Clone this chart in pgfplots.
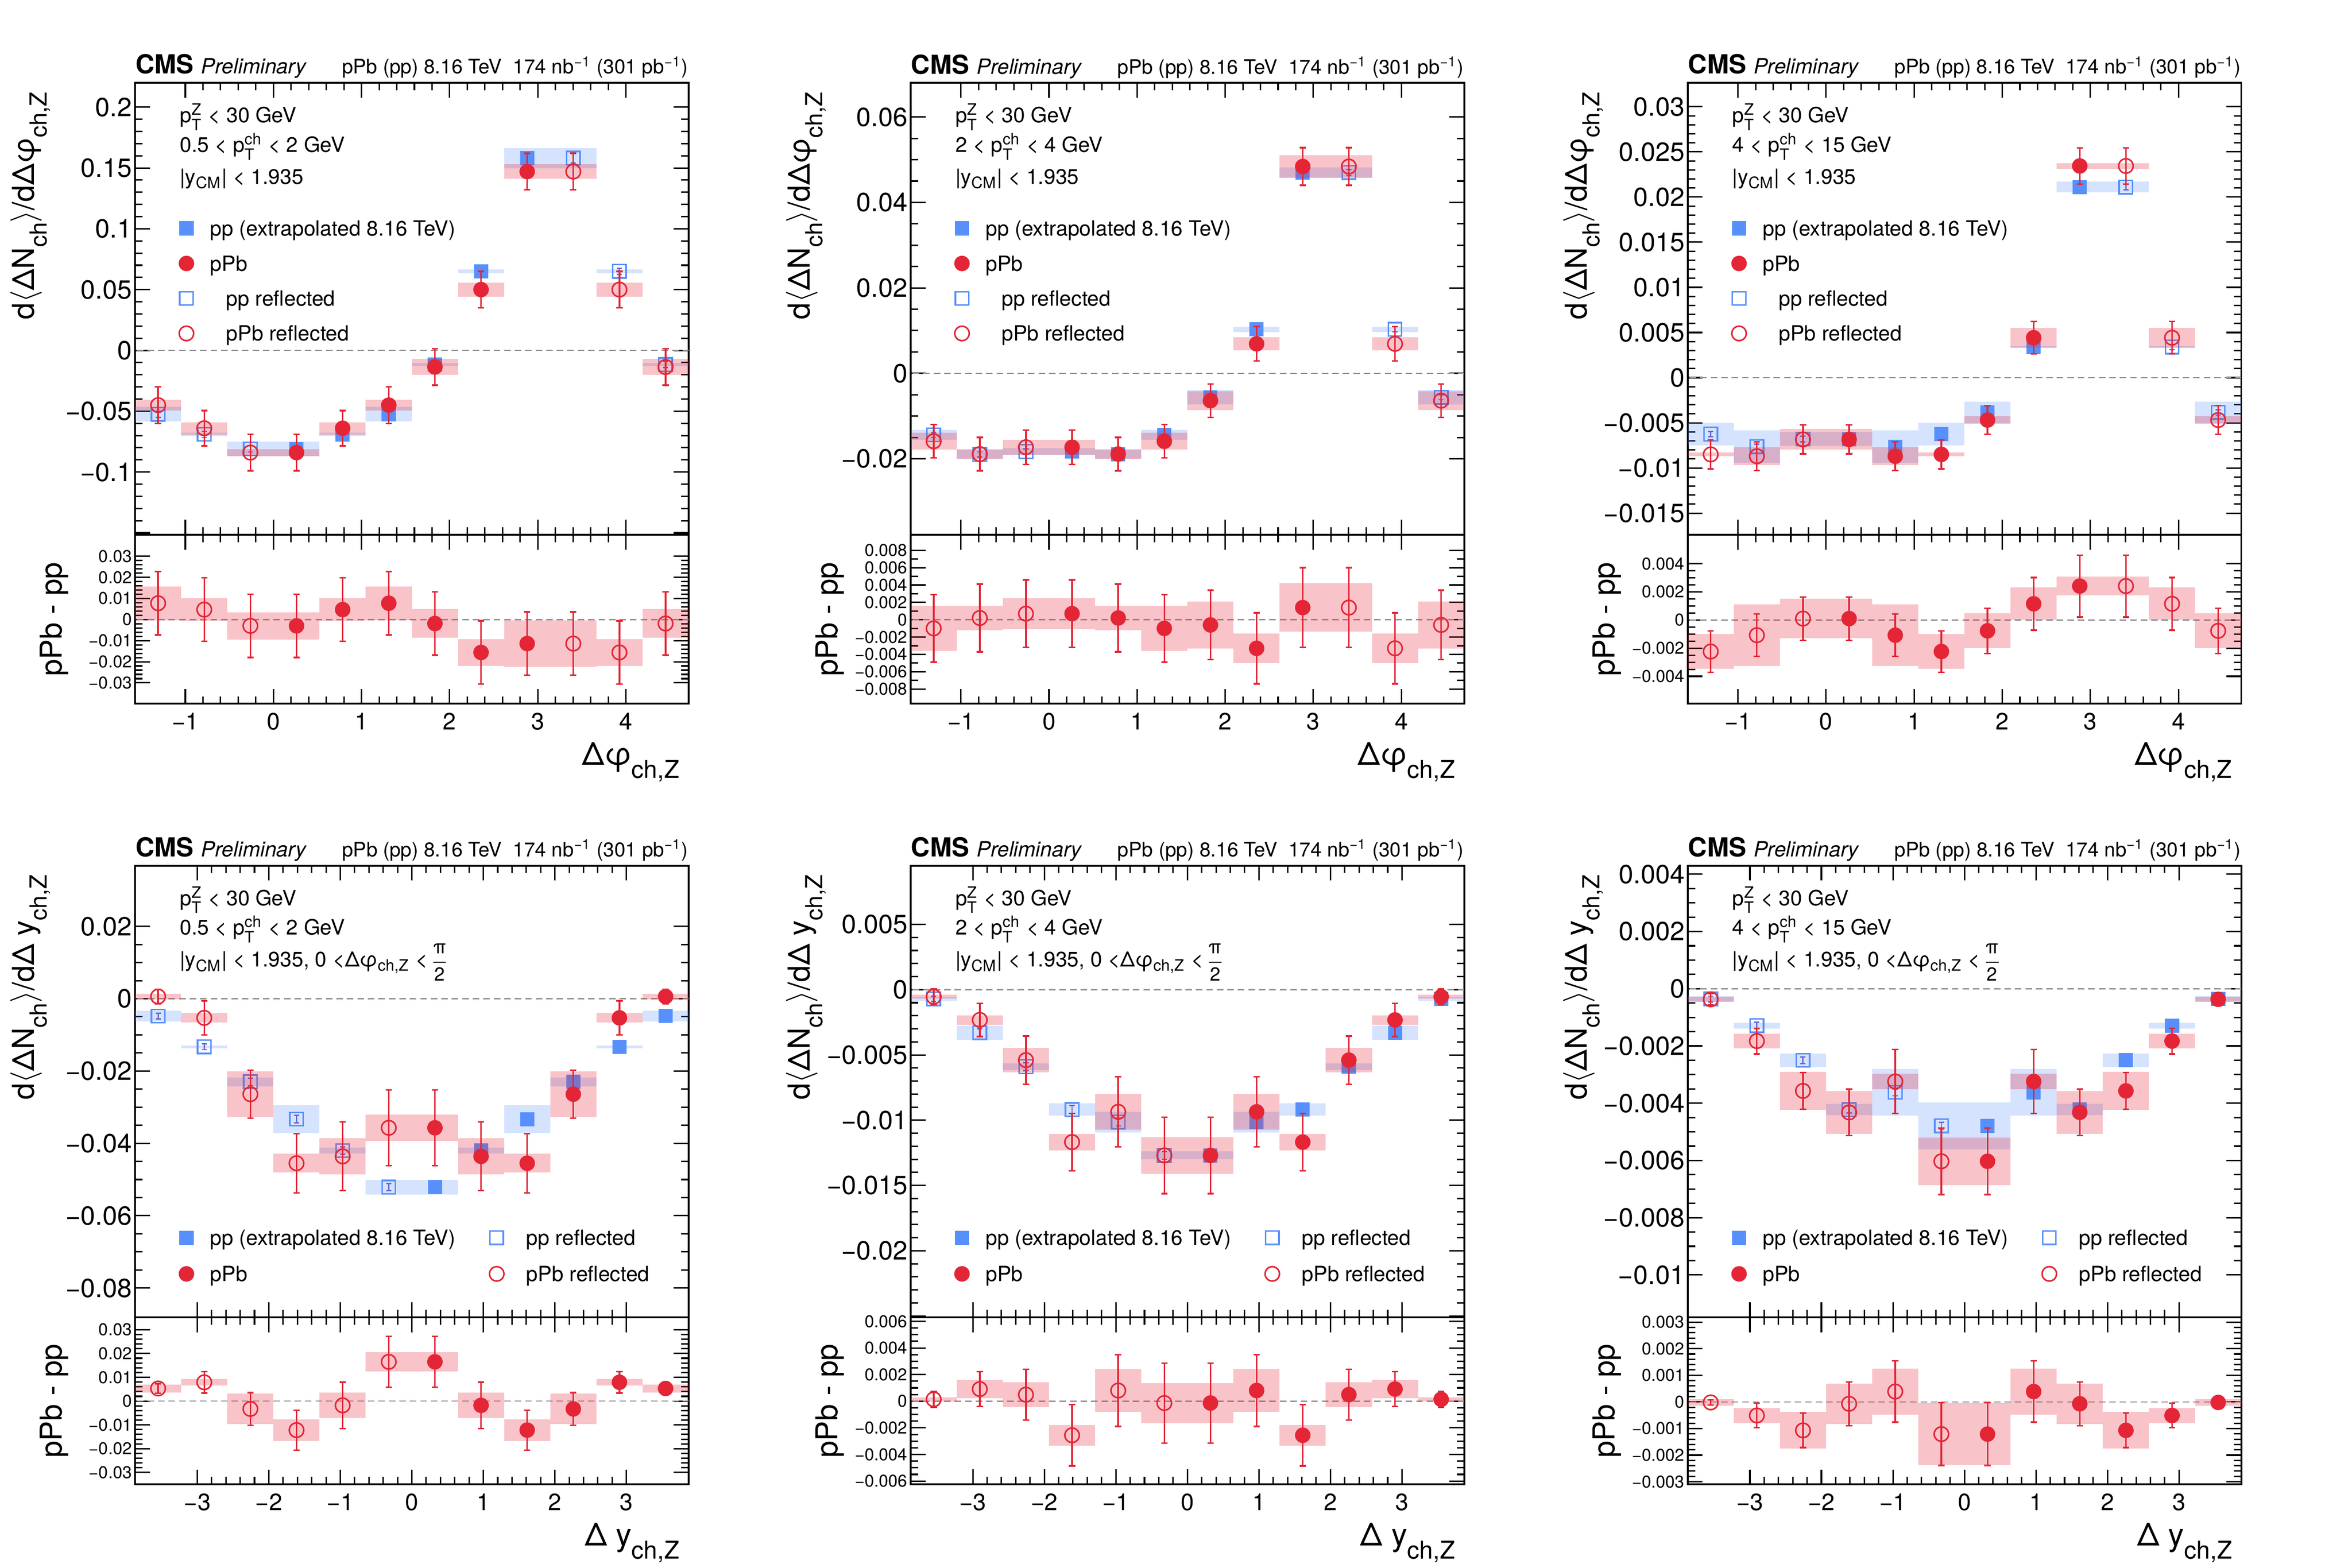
\documentclass[border=0pt]{standalone}
\usepackage{fontspec}
\setmainfont{TeX Gyre Heros}
\usepackage{amsmath}
\usepackage{graphicx}
\usepackage{pgfplots}
\usepackage{pgfplotstable}
\pgfplotsset{compat=1.18}
\definecolor{ppblue}{RGB}{87,144,252}
\definecolor{pbred}{RGB}{228,37,54}
\definecolor{ppstat}{RGB}{105,105,205}
\def\binw{17.59pt}

% columns: xf = bin centre (measured), xr = reflected bin centre,
% pp / pPb values, stat (e) and syst (s) half-widths, d = pPb - pp
\pgfplotstableread{
xf xr pp ppe pps pb pbe pbs d de ds
0.2618 -0.2618 -0.0810 0.0025 0.0060 -0.0840 0.0150 0.0030 -0.0030 0.0150 0.0065
0.7854 -0.7854 -0.0690 0.0025 0.0012 -0.0640 0.0145 0.0050 0.0047 0.0150 0.0053
1.3090 -1.3090 -0.0525 0.0025 0.0060 -0.0450 0.0150 0.0045 0.0077 0.0150 0.0080
1.8326 4.4506 -0.0116 0.0025 0.0012 -0.0136 0.0150 0.0066 -0.0019 0.0150 0.0068
2.3562 3.9270 0.0650 0.0025 0.0015 0.0500 0.0150 0.0058 -0.0156 0.0150 0.0063
2.8798 3.4034 0.1580 0.0040 0.0084 0.1470 0.0150 0.0060 -0.0114 0.0150 0.0110
}\tA
\pgfplotstableread{
xf xr pp ppe pps pb pbe pbs d de ds
0.2618 -0.2618 -0.0183 0.0006 0.0008 -0.0173 0.0040 0.0018 0.0007 0.0039 0.0018
0.7854 -0.7854 -0.0190 0.0006 0.0010 -0.0189 0.0039 0.0012 0.0002 0.0039 0.0014
1.3090 -1.3090 -0.0144 0.0006 0.0012 -0.0159 0.0039 0.0020 -0.0010 0.0039 0.0026
1.8326 4.4506 -0.0056 0.0006 0.0017 -0.0064 0.0039 0.0022 -0.0006 0.0040 0.0027
2.3562 3.9270 0.0103 0.0006 0.0006 0.0069 0.0040 0.0015 -0.0033 0.0041 0.0017
2.8798 3.4034 0.0470 0.0007 0.0012 0.0484 0.0044 0.0026 0.0014 0.0046 0.0028
}\tB
\pgfplotstableread{
xf xr pp ppe pps pb pbe pbs d de ds
0.2618 -0.2618 -0.00680 0.0003 0.00075 -0.00684 0.0016 0.00115 0.00010 0.00154 0.00140
0.7854 -0.7854 -0.00765 0.0003 0.00180 -0.00870 0.0016 0.00100 -0.00108 0.00150 0.00220
1.3090 -1.3090 -0.00625 0.0003 0.00124 -0.00850 0.0016 0.00020 -0.00224 0.00147 0.00124
1.8326 4.4506 -0.00385 0.0003 0.00120 -0.00469 0.0016 0.00040 -0.00077 0.00160 0.00124
2.3562 3.9270 0.00340 0.0003 0.00010 0.00442 0.0018 0.00110 0.00115 0.00187 0.00115
2.8798 3.4034 0.02110 0.0003 0.00060 0.02344 0.0020 0.00030 0.00241 0.00220 0.00066
}\tC
\pgfplotstableread{
xf xr pp ppe pps pb pbe pbs d de ds
0.3225 -0.3225 -0.0521 0.0010 0.0020 -0.0357 0.0105 0.0036 0.0165 0.0107 0.0040
0.9675 -0.9675 -0.0420 0.0010 0.0008 -0.0436 0.0095 0.0050 -0.0018 0.0097 0.0053
1.6125 -1.6125 -0.0333 0.0010 0.0038 -0.0455 0.0082 0.0026 -0.0122 0.0084 0.0046
2.2575 -2.2575 -0.0230 0.0010 0.0012 -0.0264 0.0066 0.0063 -0.0033 0.0069 0.0064
2.9025 -2.9025 -0.0133 0.0008 0.0004 -0.0053 0.0047 0.0013 0.0079 0.0045 0.0014
3.5475 -3.5475 -0.0048 0.0008 0.0015 0.0006 0.0020 0.0008 0.0053 0.0020 0.0017
}\tD
\pgfplotstableread{
xf xr pp ppe pps pb pbe pbs d de ds
0.3225 -0.3225 -0.01270 0.0003 0.00030 -0.01270 0.00293 0.00140 -0.00014 0.00300 0.00150
0.9675 -0.9675 -0.01014 0.0003 0.00080 -0.00936 0.00268 0.00137 0.00080 0.00270 0.00160
1.6125 -1.6125 -0.00918 0.0003 0.00048 -0.01168 0.00220 0.00063 -0.00256 0.00230 0.00077
2.2575 -2.2575 -0.00590 0.0003 0.00025 -0.00540 0.00184 0.00093 0.00049 0.00190 0.00095
2.9025 -2.9025 -0.00330 0.0003 0.00055 -0.00232 0.00127 0.00036 0.00091 0.00130 0.00070
3.5475 -3.5475 -0.00070 0.0002 0.00015 -0.00054 0.00060 0.00015 0.00014 0.00060 0.00015
}\tE
\pgfplotstableread{
xf xr pp ppe pps pb pbe pbs d de ds
0.3225 -0.3225 -0.00479 0.00012 0.00082 -0.00603 0.00116 0.00083 -0.00121 0.00118 0.00117
0.9675 -0.9675 -0.00362 0.00012 0.00082 -0.00324 0.00112 0.00027 0.00039 0.00115 0.00087
1.6125 -1.6125 -0.00422 0.00012 0.00020 -0.00432 0.00081 0.00075 -0.00007 0.00082 0.00076
2.2575 -2.2575 -0.00250 0.00012 0.00024 -0.00357 0.00064 0.00067 -0.00107 0.00065 0.00069
2.9025 -2.9025 -0.00129 0.00012 0.00010 -0.00183 0.00045 0.00025 -0.00051 0.00046 0.00028
3.5475 -3.5475 -0.00036 0.00010 0.00010 -0.00037 0.00020 0.00008 -0.00002 0.00010 0.00013
}\tF

\pgfplotsset{
  legend image code/.code={\draw[#1] plot coordinates {(0.2cm,0.1cm)}; \path (0cm,-0.125cm) (0.51cm,0.33cm);},
  cmsbase/.style={scale only axis, width=7.42cm, anchor=south west, clip mode=individual,
    axis line style={line width=0.7pt}, tick style={black, line width=0.55pt},
    major tick length=0.2cm, minor tick length=0.1cm, tick align=inside,
    xtick pos=both, ytick pos=both, scaled y ticks=false, scaled x ticks=false},
  mainax/.style={cmsbase, xticklabels={},
    yticklabel style={font=\fontsize{10}{12}\selectfont, inner xsep=1pt},
    ylabel style={at={(axis description cs:-0.182,1)}, anchor=base east, font=\fontsize{11.5}{13.8}\selectfont}},
  ratioax/.style={cmsbase,
    yticklabel style={font=\fontsize{6.5}{7.8}\selectfont, inner xsep=1pt},
    xticklabel style={font=\fontsize{9}{10.8}\selectfont},
    ylabel={pPb - pp},
    ylabel style={at={(axis description cs:-0.132,0.5)}, anchor=base, font=\fontsize{11.5}{13.8}\selectfont},
    xlabel style={at={(axis description cs:1,0)}, anchor=base east, yshift=-0.82cm, font=\fontsize{12}{14}\selectfont}},
  dphi/.style={xmin=-1.5708, xmax=4.7124, xtick={-1,0,1,2,3,4}, xticklabels={−1,0,1,2,3,4}, minor x tick num=4},
  dy/.style={xmin=-3.87, xmax=3.87, xtick={-3,-2,-1,0,1,2,3}, xticklabels={−3,−2,−1,0,1,2,3}, minor x tick num=4},
  legA/.style={legend style={at={(axis description cs:0.064,0.718)}, anchor=north west, draw=none, fill=none,
    inner sep=0pt, font=\fontsize{8}{9.6}\selectfont, cells={anchor=base west}, nodes={inner sep=0pt}, row sep=0pt}},
  legB/.style={legend columns=2, legend style={at={(axis description cs:0.064,0.2164)}, anchor=north west, draw=none, fill=none,
    inner sep=0pt, font=\fontsize{8}{9.6}\selectfont, cells={anchor=base west}, nodes={inner sep=0pt}, row sep=0.015cm,
    /tikz/every even column/.append style={column sep=0.345cm}}},
  zeroline/.style={forget plot, color=gray!85, dash pattern=on 2.5pt off 1.5pt, line width=0.45pt, mark=none},
  ppbox/.style={forget plot, only marks, mark=*, mark size=0pt, mark options={draw=none, fill=none},
    error bars/y dir=both, error bars/y explicit,
    error bars/error mark=none, error bars/error bar style={line width=\binw, draw=ppblue, draw opacity=0.25}},
  pbbox/.style={forget plot, only marks, mark=*, mark size=0pt, mark options={draw=none, fill=none},
    error bars/y dir=both, error bars/y explicit,
    error bars/error mark=none, error bars/error bar style={line width=\binw, draw=pbred, draw opacity=0.27}},
  ppF/.style={forget plot, only marks, mark=square*, mark size=2.55pt, color=ppblue,
    mark options={solid, fill=ppblue, draw=ppblue, line width=0.3pt},
    error bars/y dir=both, error bars/y explicit, error bars/error mark=-,
    error bars/error mark options={rotate=90, mark size=1pt, line width=0.5pt, draw=ppstat},
    error bars/error bar style={line width=0.5pt, draw=ppstat}},
  ppR/.style={forget plot, only marks, mark=square, mark size=2.55pt, color=ppblue,
    mark options={solid, draw=ppblue, fill=none, line width=0.6pt},
    error bars/y dir=both, error bars/y explicit, error bars/error mark=-,
    error bars/error mark options={rotate=90, mark size=1pt, line width=0.5pt, draw=ppstat},
    error bars/error bar style={line width=0.5pt, draw=ppstat}},
  pbF/.style={forget plot, only marks, mark=*, mark size=2.75pt, color=pbred,
    mark options={solid, fill=pbred, draw=pbred},
    error bars/y dir=both, error bars/y explicit, error bars/error mark=-,
    error bars/error mark options={rotate=90, mark size=1.2pt, line width=0.6pt, draw=pbred},
    error bars/error bar style={line width=0.6pt, draw=pbred}},
  pbR/.style={forget plot, only marks, mark=o, mark size=2.75pt, color=pbred,
    mark options={solid, draw=pbred, fill=none, line width=0.6pt},
    error bars/y dir=both, error bars/y explicit, error bars/error mark=-,
    error bars/error mark options={rotate=90, mark size=1.2pt, line width=0.6pt, draw=pbred},
    error bars/error bar style={line width=0.6pt, draw=pbred}},
  ppLF/.style={mark=square*, color=ppblue, mark size=2.55pt, mark options={solid}},
  ppLR/.style={mark=square, color=ppblue, mark size=2.55pt, mark options={solid, line width=0.6pt}},
  pbLF/.style={mark=*, color=pbred, mark size=2.75pt, mark options={solid}},
  pbLR/.style={mark=o, color=pbred, mark size=2.75pt, mark options={solid, line width=0.6pt}},
}

\newcommand{\mainplots}[1]{%
  \addplot[zeroline] coordinates {(-10,0) (10,0)};
  \addplot[ppbox] table[x=xf,y=pp,y error=pps]{#1};
  \addplot[ppbox] table[x=xr,y=pp,y error=pps]{#1};
  \addplot[ppF] table[x=xf,y=pp,y error=ppe]{#1};
  \addplot[ppR] table[x=xr,y=pp,y error=ppe]{#1};
  \addplot[pbbox] table[x=xf,y=pb,y error=pbs]{#1};
  \addplot[pbbox] table[x=xr,y=pb,y error=pbs]{#1};
  \addplot[pbF] table[x=xf,y=pb,y error=pbe]{#1};
  \addplot[pbR] table[x=xr,y=pb,y error=pbe]{#1};
}
\newcommand{\ratioplots}[1]{%
  \addplot[zeroline] coordinates {(-10,0) (10,0)};
  \addplot[pbbox] table[x=xf,y=d,y error=ds]{#1};
  \addplot[pbbox] table[x=xr,y=d,y error=ds]{#1};
  \addplot[pbF] table[x=xf,y=d,y error=de]{#1};
  \addplot[pbR] table[x=xr,y=d,y error=de]{#1};
}
\newcommand{\legendA}{%
  \addlegendimage{ppLF}\addlegendentry{pp (extrapolated 8.16 TeV)}
  \addlegendimage{pbLF}\addlegendentry{pPb}
  \addlegendimage{ppLR}\addlegendentry{\hspace*{0.215cm}pp reflected}
  \addlegendimage{pbLR}\addlegendentry{\hspace*{0.215cm}pPb reflected}}
\newcommand{\legendB}{%
  \addlegendimage{ppLF}\addlegendentry{pp (extrapolated 8.16 TeV)}
  \addlegendimage{ppLR}\addlegendentry{\hspace*{0.08cm}pp reflected}
  \addlegendimage{pbLF}\addlegendentry{pPb}
  \addlegendimage{pbLR}\addlegendentry{\hspace*{0.08cm}pPb reflected}}
\newcommand{\header}{%
  \node[anchor=base west, inner sep=0pt, yshift=0.12cm] at (axis description cs:0,1)
    {\fontsize{10}{12}\selectfont\bfseries CMS\ \fontsize{8}{9.6}\selectfont\mdseries\itshape Preliminary};
  \node[anchor=base east, inner sep=0pt, yshift=0.12cm] at (axis description cs:1,1)
    {\fontsize{7.6}{9.1}\selectfont pPb (pp) 8.16 TeV\ \ 174 nb\textsuperscript{−1} (301 pb\textsuperscript{−1})};}
\newcommand{\annot}[3]{%
  \node[anchor=base west, inner sep=0pt, font=\fontsize{8}{9.6}\selectfont] at (axis description cs:0.08,0.912) {#1};
  \node[anchor=base west, inner sep=0pt, font=\fontsize{8}{9.6}\selectfont] at (axis description cs:0.08,0.847) {#2};
  \node[anchor=base west, inner sep=0pt, font=\fontsize{8}{9.6}\selectfont] (lthree) at (axis description cs:0.08,0.776) {#3};}
\newcommand{\halfpi}{\node[anchor=base west, inner sep=0pt, xshift=0.5pt, font=\fontsize{7.2}{8}\selectfont] at (lthree.base east)
    {$\dfrac{\text{π}}{\text{2}}$};}
\newcommand{\rsub}[1]{\raisebox{-0.42em}{\scalebox{0.78}{#1}}}
\newcommand{\ptz}{p$_{\text{T}}^{\text{Z}}$ < 30 GeV}
\newcommand{\ptch}{p$_{\text{T}}^{\text{ch}}$}
\newcommand{\ycm}{|y$_{\text{CM}}$| < 1.935}
\newcommand{\ycmphi}{|y$_{\text{CM}}$| < 1.935, 0 <Δφ$_{\text{ch,Z}}$ <}
\newcommand{\ylphi}{d$\langle$ΔN\rsub{ch}$\rangle$/dΔφ\rsub{ch,Z}}
\newcommand{\yly}{d$\langle$ΔN\rsub{ch}$\rangle$/dΔ y\rsub{ch,Z}}

\begin{document}
\begin{tikzpicture}
\path[use as bounding box] (0,0) rectangle (31.525,21.015);

% ---------------- Panel 1 ----------------
\begin{axis}[dphi, mainax, height=6.06cm, at={(1.81cm,13.845cm)},
  ymin=-0.1516, ymax=0.22,
  ytick={-0.15,-0.1,-0.05,0,0.05,0.1,0.15,0.2},
  yticklabels={,−0.1,−0.05,0,0.05,0.1,0.15,0.2},
  minor y tick num=4, ylabel={\ylphi}, legA]
\mainplots{\tA}
\legendA
\header
\annot{\ptz}{0.5 < \ptch{} < 2 GeV}{\ycm}
\end{axis}
\begin{axis}[dphi, ratioax, height=2.265cm, at={(1.81cm,11.58cm)},
  ymin=-0.0399, ymax=0.0401,
  ytick={-0.03,-0.02,-0.01,0,0.01,0.02,0.03},
  yticklabels={−0.03,−0.02,−0.01,0,0.01,0.02,0.03},
  minor y tick num=4, xlabel={Δφ\rsub{ch,Z}}]
\ratioplots{\tA}
\end{axis}

% ---------------- Panel 2 ----------------
\begin{axis}[dphi, mainax, height=6.06cm, at={(12.205cm,13.845cm)},
  ymin=-0.0378, ymax=0.068,
  ytick={-0.02,0,0.02,0.04,0.06},
  yticklabels={−0.02,0,0.02,0.04,0.06},
  minor y tick num=3, ylabel={\ylphi}, legA]
\mainplots{\tB}
\legendA
\header
\annot{\ptz}{2 < \ptch{} < 4 GeV}{\ycm}
\end{axis}
\begin{axis}[dphi, ratioax, height=2.265cm, at={(12.205cm,11.58cm)},
  ymin=-0.0097, ymax=0.0098,
  ytick={-0.008,-0.006,-0.004,-0.002,0,0.002,0.004,0.006,0.008},
  yticklabels={−0.008,−0.006,−0.004,−0.002,0,0.002,0.004,0.006,0.008},
  minor y tick num=1, xlabel={Δφ\rsub{ch,Z}}]
\ratioplots{\tB}
\end{axis}

% ---------------- Panel 3 ----------------
\begin{axis}[dphi, mainax, height=6.06cm, at={(22.62cm,13.845cm)},
  ymin=-0.0174, ymax=0.03265,
  ytick={-0.015,-0.01,-0.005,0,0.005,0.01,0.015,0.02,0.025,0.03},
  yticklabels={−0.015,−0.01,−0.005,0,0.005,0.01,0.015,0.02,0.025,0.03},
  minor y tick num=4, ylabel={\ylphi}, legA]
\mainplots{\tC}
\legendA
\header
\annot{\ptz}{4 < \ptch{} < 15 GeV}{\ycm}
\end{axis}
\begin{axis}[dphi, ratioax, height=2.265cm, at={(22.62cm,11.58cm)},
  ymin=-0.00595, ymax=0.00605,
  ytick={-0.004,-0.002,0,0.002,0.004},
  yticklabels={−0.004,−0.002,0,0.002,0.004},
  minor y tick num=3, xlabel={Δφ\rsub{ch,Z}}]
\ratioplots{\tC}
\end{axis}

% ---------------- Panel 4 ----------------
\begin{axis}[dy, mainax, height=6.055cm, at={(1.81cm,3.355cm)},
  ymin=-0.0881, ymax=0.0368,
  ytick={-0.08,-0.06,-0.04,-0.02,0,0.02},
  yticklabels={−0.08,−0.06,−0.04,−0.02,0,0.02},
  minor y tick num=3, ylabel={\yly}, legB]
\mainplots{\tD}
\legendB
\header
\annot{\ptz}{0.5 < \ptch{} < 2 GeV}{\ycmphi}
\halfpi
\end{axis}
\begin{axis}[dy, ratioax, height=2.24cm, at={(1.81cm,1.115cm)},
  ymin=-0.035, ymax=0.0352,
  ytick={-0.03,-0.02,-0.01,0,0.01,0.02,0.03},
  yticklabels={−0.03,−0.02,−0.01,0,0.01,0.02,0.03},
  minor y tick num=4, xlabel={Δ y\rsub{ch,Z}}]
\ratioplots{\tD}
\end{axis}

% ---------------- Panel 5 ----------------
\begin{axis}[dy, mainax, height=6.055cm, at={(12.205cm,3.355cm)},
  ymin=-0.0251, ymax=0.0095,
  ytick={-0.025,-0.02,-0.015,-0.01,-0.005,0,0.005},
  yticklabels={,−0.02,−0.015,−0.01,−0.005,0,0.005},
  minor y tick num=4, ylabel={\yly}, legB]
\mainplots{\tE}
\legendB
\header
\annot{\ptz}{2 < \ptch{} < 4 GeV}{\ycmphi}
\halfpi
\end{axis}
\begin{axis}[dy, ratioax, height=2.24cm, at={(12.205cm,1.115cm)},
  ymin=-0.00625, ymax=0.0063,
  ytick={-0.006,-0.004,-0.002,0,0.002,0.004,0.006},
  yticklabels={−0.006,−0.004,−0.002,0,0.002,0.004,0.006},
  minor y tick num=3, xlabel={Δ y\rsub{ch,Z}}]
\ratioplots{\tE}
\end{axis}

% ---------------- Panel 6 ----------------
\begin{axis}[dy, mainax, height=6.055cm, at={(22.62cm,3.355cm)},
  ymin=-0.01148, ymax=0.0043,
  ytick={-0.01,-0.008,-0.006,-0.004,-0.002,0,0.002,0.004},
  yticklabels={−0.01,−0.008,−0.006,−0.004,−0.002,0,0.002,0.004},
  minor y tick num=3, ylabel={\yly}, legB]
\mainplots{\tF}
\legendB
\header
\annot{\ptz}{4 < \ptch{} < 15 GeV}{\ycmphi}
\halfpi
\end{axis}
\begin{axis}[dy, ratioax, height=2.24cm, at={(22.62cm,1.115cm)},
  ymin=-0.0031, ymax=0.00318,
  ytick={-0.003,-0.002,-0.001,0,0.001,0.002,0.003},
  yticklabels={−0.003,−0.002,−0.001,0,0.001,0.002,0.003},
  minor y tick num=4, xlabel={Δ y\rsub{ch,Z}}]
\ratioplots{\tF}
\end{axis}

\end{tikzpicture}
\end{document}
